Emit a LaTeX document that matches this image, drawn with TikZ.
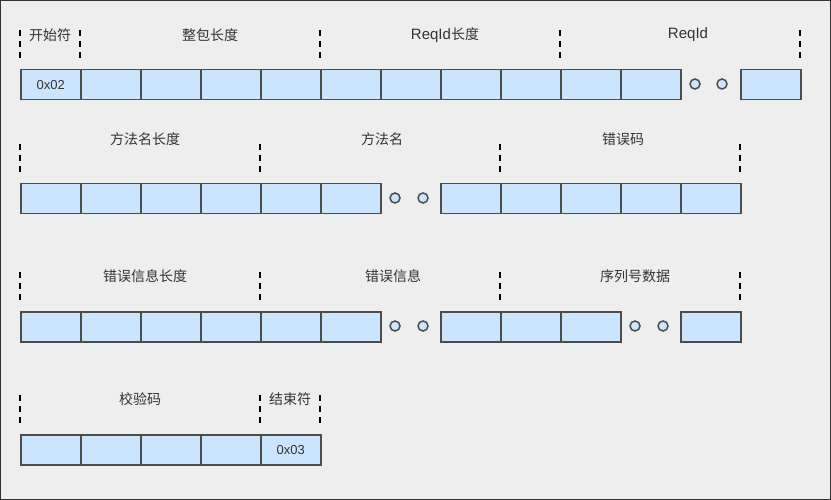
\documentclass[tikz,border=0pt]{standalone}
\usepackage{fontspec}
\setmainfont{Liberation Sans}
\newfontfamily\cjk{Noto Sans CJK SC}
\definecolor{cellfill}{HTML}{CCE5FF}
\definecolor{cellline}{HTML}{4D4D4D}
\definecolor{txt}{HTML}{333333}
\definecolor{bg}{HTML}{EEEEEE}
\tikzset{
  cell/.style={draw=cellline, fill=cellfill, line width=1.5pt, minimum width=60pt, minimum height=30pt, inner sep=0pt, anchor=north west, font=\fontsize{13}{13}\selectfont, text=txt},
  celltext/.style={font=\fontsize{13}{13}\selectfont, text=txt, inner sep=0pt},
  dot/.style={circle, draw=cellline, fill=cellfill, line width=1.5pt, minimum size=10pt, inner sep=0pt},
  lbl/.style={font=\fontsize{14}{14}\selectfont\cjk, text=txt, inner sep=0pt},
  sepline/.style={draw=black, line width=2pt, dash pattern=on 6pt off 5pt},
}
\begin{document}
\begin{tikzpicture}[x=1pt,y=-1pt]
\fill[bg] (0,0) rectangle (831,500);
\draw[draw=txt, line width=1pt] (0.5,0.5) rectangle (830.5,499.5);
\useasboundingbox (0,0) rectangle (831,500);

% ---------- Row 1 ----------
\foreach \i in {0,...,10} \node[cell] (ra\i) at ({20+60*\i},69) {};
\node[celltext] (ra0t) at (ra0.center) {0x02};
\node[dot] (rad1) at (695,84) {};
\node[dot] (rad2) at (722,84) {};
\node[cell] (ra11) at (740,69) {};
\foreach \x/\n in {20/a,80/b,320/c,560/d,800/e} {
  \coordinate (sa\n1) at (\x,30);
  \coordinate (sa\n2) at (\x,60);
  \draw[sepline] (sa\n1) -- (sa\n2);
}
\node[lbl] (la1) at (50,35) {开始符};
\node[lbl] (la2) at (210,35) {整包长度};
\node[lbl] (la3) at (445,35) {{\fontspec{Liberation Sans}\fontsize{15}{15}\selectfont ReqId}长度};
\node[lbl] (la4) at (688,35) {\fontspec{Liberation Sans}\fontsize{15}{15}\selectfont ReqId};

% ---------- Row 2 ----------
\foreach \i in {0,...,5} \node[cell] (rb\i) at ({20+60*\i},183) {};
\node[dot] (rbd1) at (395,198) {};
\node[dot] (rbd2) at (423,198) {};
\foreach \i in {0,...,4} \node[cell] (rbb\i) at ({440+60*\i},183) {};
\foreach \x/\n in {20/a,260/b,500/c,740/d} {
  \coordinate (sb\n1) at (\x,144);
  \coordinate (sb\n2) at (\x,174);
  \draw[sepline] (sb\n1) -- (sb\n2);
}
\node[lbl] (lb1) at (145,139) {方法名长度};
\node[lbl] (lb2) at (382,139) {方法名};
\node[lbl] (lb3) at (623,139) {错误码};

% ---------- Row 3 ----------
\foreach \i in {0,...,5} \node[cell] (rc\i) at ({20+60*\i},311) {};
\node[dot] (rcd1) at (395,326) {};
\node[dot] (rcd2) at (423,326) {};
\foreach \i in {0,...,2} \node[cell] (rcc\i) at ({440+60*\i},311) {};
\node[dot] (rcd3) at (635,326) {};
\node[dot] (rcd4) at (663,326) {};
\node[cell] (rcc3) at (680,311) {};
\foreach \x/\n in {20/a,260/b,500/c,740/d} {
  \coordinate (sc\n1) at (\x,272);
  \coordinate (sc\n2) at (\x,302);
  \draw[sepline] (sc\n1) -- (sc\n2);
}
\node[lbl] (lc1) at (145,276) {错误信息长度};
\node[lbl] (lc2) at (393,276) {错误信息};
\node[lbl] (lc3) at (635,276) {序列号数据};

% ---------- Row 4 ----------
\foreach \i in {0,...,4} \node[cell] (rd\i) at ({20+60*\i},434) {};
\node[celltext] (rd4t) at (rd4.center) {0x03};
\foreach \x/\n in {20/a,260/b,320/c} {
  \coordinate (sd\n1) at (\x,395);
  \coordinate (sd\n2) at (\x,425);
  \draw[sepline] (sd\n1) -- (sd\n2);
}
\node[lbl] (ld1) at (140,399) {校验码};
\node[lbl] (ld2) at (290,399) {结束符};
\end{tikzpicture}
\end{document}
